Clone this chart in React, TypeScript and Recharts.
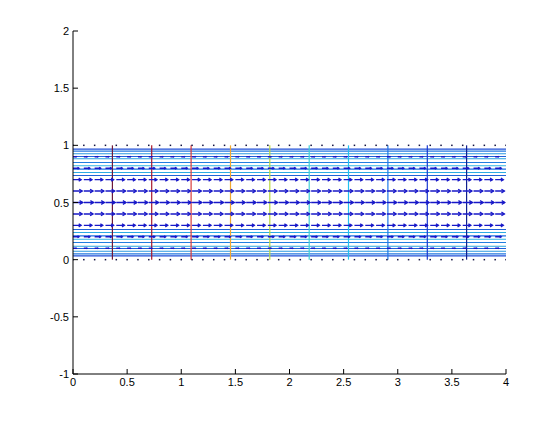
import { ComposedChart, Line, Scatter, XAxis, YAxis, ReferenceLine } from "recharts";

// contour levels of the velocity (horizontal lines)
const lowerLevels = [0.033, 0.051, 0.074, 0.098, 0.118, 0.15, 0.179, 0.208, 0.238, 0.264];
const upperLevels = [0.967, 0.949, 0.926, 0.902, 0.882, 0.85, 0.821, 0.792, 0.762, 0.736];
const levelColors = ["#1f4fd8", "#2478e0", "#2a98e0", "#1f60d8", "#28a6e0", "#207ee0", "#30b4e4", "#206ee0", "#2cacE4", "#2062d8"];

// pressure contours (vertical lines)
const pressureX = [0.364, 0.727, 1.091, 1.455, 1.818, 2.182, 2.545, 2.909, 3.273, 3.636];
const pressureColors = ["#6e1a3a", "#a8182c", "#d83a3a", "#f0a830", "#b8d840", "#40d0d8", "#22c0f0", "#1e78e8", "#1838d0", "#10208f"];

// quiver grid
const quiverX = [0, 0.1, 0.2, 0.3, 0.4, 0.5, 0.6, 0.7, 0.8, 0.9, 1, 1.1, 1.2, 1.3, 1.4, 1.5, 1.6, 1.7, 1.8, 1.9, 2, 2.1, 2.2, 2.3, 2.4, 2.5, 2.6, 2.7, 2.8, 2.9, 3, 3.1, 3.2, 3.3, 3.4, 3.5, 3.6, 3.7, 3.8, 3.9, 4];
const quiverY = [0, 0.1, 0.2, 0.3, 0.4, 0.5, 0.6, 0.7, 0.8, 0.9, 1];
// arrow length (x units) for each row
const arrowLen = [0, 0.03, 0.056, 0.075, 0.085, 0.09, 0.085, 0.075, 0.056, 0.03, 0];

const xTicks = [0, 0.5, 1, 1.5, 2, 2.5, 3, 3.5, 4];
const yTicks = [-1, -0.5, 0, 0.5, 1, 1.5, 2];

const font = { fontFamily: "'Liberation Sans', Arial, sans-serif", fontSize: 11 };

const XTick = (props: any) => {
  const { x, y, payload } = props;
  return (
    <g>
      <line x1={x} y1={y} x2={x} y2={y - 5} stroke="#000" />
      <text x={x} y={y + 12} textAnchor="middle" fill="#000" style={font}>{payload.value}</text>
    </g>
  );
};

const YTick = (props: any) => {
  const { x, y, payload } = props;
  return (
    <g>
      <line x1={x} y1={y} x2={x + 5} y2={y} stroke="#000" />
      <text x={x - 4} y={y + 4} textAnchor="end" fill="#000" style={font}>{payload.value}</text>
    </g>
  );
};

const arrowRows = quiverY.map((yv, i) => {
  const pts: any[] = [];
  quiverX.forEach((xv) => {
    pts.push({ x: xv, y: yv });
    pts.push({ x: xv + arrowLen[i], y: yv, tip: true });
    pts.push({ x: xv + arrowLen[i], y: null });
  });
  return { y: yv, len: arrowLen[i], pts };
});

const wallDots = quiverY
  .filter((_, i) => arrowLen[i] === 0)
  .flatMap((yv) => quiverX.map((xv) => ({ x: xv, y: yv })));

const App = () => {
  return (
    <div style={{ position: "absolute", left: 0, top: 0, background: "#fff" }}>
      <ComposedChart width={559} height={421} margin={{ top: 31, right: 53, bottom: 17, left: 33 }}>
        <XAxis
          type="number"
          dataKey="x"
          domain={[0, 4]}
          ticks={xTicks}
          allowDataOverflow
          height={30}
          tickSize={0}
          tickMargin={0}
          tickLine={false}
          tick={<XTick />}
          axisLine={{ stroke: "#000" }}
          interval={0}
        />
        <YAxis
          type="number"
          domain={[-1, 2]}
          ticks={yTicks}
          allowDataOverflow
          width={40}
          tickSize={0}
          tickMargin={0}
          tickLine={false}
          tick={<YTick />}
          axisLine={{ stroke: "#000" }}
          interval={0}
        />
        {lowerLevels.map((lv, i) => (
          <ReferenceLine key={`lo${i}`} segment={[{ x: 0, y: lv }, { x: 4, y: lv }]} stroke={levelColors[i]} strokeWidth={1.1} />
        ))}
        {upperLevels.map((lv, i) => (
          <ReferenceLine key={`up${i}`} segment={[{ x: 0, y: lv }, { x: 4, y: lv }]} stroke={levelColors[i]} strokeWidth={1.1} />
        ))}
        {pressureX.map((xv, i) => (
          <ReferenceLine key={`p${i}`} segment={[{ x: xv, y: 0 }, { x: xv, y: 1 }]} stroke={pressureColors[i]} strokeWidth={1.2} />
        ))}
        {arrowRows
          .filter((r) => r.len > 0)
          .map((r, ri) => {
            const head = 3.2 * Math.pow(r.len / 0.09, 1.5);
            return (
              <Line
                key={`q${ri}`}
                data={r.pts}
                dataKey="y"
                type="linear"
                stroke="#1818c8"
                strokeWidth={1.4}
                isAnimationActive={false}
                activeDot={false}
                dot={(p: any) => {
                  if (!p.payload || !p.payload.tip || p.cy == null) return <g key={`d${ri}-${p.index}`} />;
                  return (
                    <path
                      key={`d${ri}-${p.index}`}
                      d={`M${p.cx - head},${p.cy - head * 0.6} L${p.cx},${p.cy} L${p.cx - head},${p.cy + head * 0.6}`}
                      stroke="#1818c8"
                      strokeWidth={1.3}
                      fill="none"
                    />
                  );
                }}
              />
            );
          })}
        <Scatter
          data={wallDots}
          dataKey="y"
          isAnimationActive={false}
          shape={(p: any) => <rect x={p.cx - 0.75} y={p.cy - 0.75} width={1.5} height={1.5} fill="#101040" />}
        />
      </ComposedChart>
    </div>
  );
};

export default App;
